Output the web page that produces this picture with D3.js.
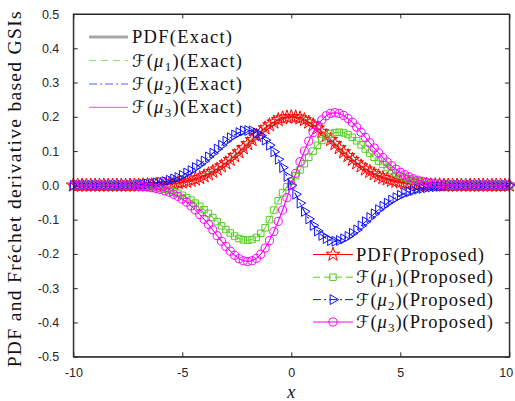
<!DOCTYPE html>
<html><head><meta charset="utf-8">
<script src="https://cdn.jsdelivr.net/npm/d3@7"></script>
<style>
html,body{margin:0;padding:0;background:#fff;}
svg{display:block;}
</style></head>
<body>
<svg id="c" width="515" height="401"></svg>
<script>
// ---------- data ----------
const xs = [-10,-9.8,-9.6,-9.4,-9.2,-9,-8.8,-8.6,-8.4,-8.2,-8,-7.8,-7.6,-7.4,-7.2,
 -7,-6.8,-6.6,-6.4,-6.2,-6,-5.8,-5.6,-5.4,-5.2,-5,-4.8,-4.6,-4.4,-4.2,-4,-3.8,-3.6,-3.4,-3.2,-3,-2.8,-2.6,-2.4,-2.2,-2,-1.8,-1.6,-1.4,-1.2,-1,-0.8,-0.6,-0.4,-0.2,
 0,0.2,0.4,0.6,0.8,1,1.2,1.4,1.6,1.8,2,2.2,2.4,2.6,2.8,3,3.2,3.4,3.6,3.8,4,4.2,4.4,4.6,4.8,5,5.2,5.4,5.6,5.8,6,6.2,6.4,6.6,6.8,7,
 7.2,7.4,7.6,7.8,8,8.2,8.4,8.6,8.8,9,9.2,9.4,9.6,9.8,10];

const pdfVals = [0,0,0,0,0,0,0,0,0,0,0,0,0,0,0,
 0,0.001,0.001,0.001,0.002,0.002,0.003,0.004,0.005,0.007,0.009,0.011,0.014,0.018,0.022,0.027,0.033,0.040,0.047,0.056,0.065,0.075,0.086,0.097,0.109,0.121,0.133,0.145,0.156,0.167,0.176,0.184,0.191,0.196,0.199,
 0.200,0.199,0.196,0.191,0.184,0.176,0.167,0.156,0.145,0.133,0.121,0.109,0.097,0.086,0.075,0.065,0.056,0.047,0.040,0.033,0.027,0.022,0.018,0.014,0.011,0.009,0.007,0.005,0.004,0.003,0.002,0.002,0.001,0.001,0.001,0,
 0,0,0,0,0,0,0,0,0,0,0,0,0,0,0];

const mu1Vals = [0,0,0,0,0,0,0,0,0,0,0,0,0,0,0,
 -0.002,-0.003,-0.004,-0.005,-0.007,-0.009,-0.011,-0.015,-0.019,-0.023,-0.029,-0.036,-0.043,-0.052,-0.061,-0.071,-0.082,-0.094,-0.106,-0.118,-0.129,-0.139,-0.148,-0.155,-0.159,-0.160,-0.158,-0.152,-0.140,-0.124,-0.100,-0.072,-0.045,-0.022,-0.004,
 0.012,0.028,0.045,0.063,0.082,0.100,0.117,0.131,0.142,0.150,0.154,0.155,0.153,0.148,0.140,0.130,0.118,0.106,0.094,0.082,0.071,0.061,0.052,0.043,0.036,0.029,0.023,0.019,0.015,0.011,0.009,0.007,0.005,0.004,0.003,0.002,
 0,0,0,0,0,0,0,0,0,0,0,0,0,0,0];

const mu2Vals = [0,0,0,0,0,0,0,0,0,0,0,0,0,0,0,
 0.002,0.003,0.004,0.005,0.007,0.009,0.011,0.015,0.019,0.023,0.029,0.036,0.043,0.052,0.061,0.071,0.083,0.094,0.106,0.117,0.129,0.139,0.147,0.154,0.159,0.160,0.159,0.153,0.145,0.132,0.117,0.098,0.076,0.052,0.026,
 0.000,-0.026,-0.052,-0.076,-0.098,-0.117,-0.133,-0.146,-0.155,-0.161,-0.163,-0.161,-0.156,-0.149,-0.140,-0.130,-0.118,-0.106,-0.094,-0.083,-0.071,-0.061,-0.052,-0.043,-0.036,-0.029,-0.023,-0.019,-0.015,-0.011,-0.009,-0.007,-0.005,-0.004,-0.003,-0.002,
 0,0,0,0,0,0,0,0,0,0,0,0,0,0,0];

const mu3Vals = [0,0,0,0,0,0,0,0,0,0,0,0,0,0,0,
 -0.003,-0.004,-0.005,-0.007,-0.009,-0.012,-0.016,-0.020,-0.026,-0.032,-0.040,-0.049,-0.060,-0.072,-0.085,-0.099,-0.114,-0.130,-0.147,-0.163,-0.178,-0.192,-0.204,-0.214,-0.220,-0.222,-0.220,-0.213,-0.201,-0.183,-0.161,-0.135,-0.105,-0.072,-0.036,
 0.000,0.035,0.069,0.100,0.129,0.154,0.175,0.191,0.203,0.210,0.212,0.210,0.204,0.195,0.184,0.170,0.155,0.140,0.124,0.109,0.095,0.081,0.068,0.057,0.047,0.038,0.031,0.025,0.019,0.015,0.012,0.009,0.007,0.005,0.004,0.003,
 0,0,0,0,0,0,0,0,0,0,0,0,0,0,0];

const xTicks = [-10,-5,0,5,10];
const xTickLabels = ["-10","-5","0","5","10"];
const yTicks = [0.5,0.4,0.3,0.2,0.1,0,-0.1,-0.2,-0.3,-0.4,-0.5];
const yTickLabels = ["0.5","0.4","0.3","0.2","0.1","0.0","-0.1","-0.2","-0.3","-0.4","-0.5"];

const exactNames = ["PDF(Exact)","μ1","μ2","μ3"];
const propNames = ["PDF(Proposed)","μ1","μ2","μ3"];
const yLabel = "PDF and Fréchet derivative based GSIs";
const xLabel = "x";

// ---------- layout ----------
const svg = d3.select("#c");
const L = 73.3, R = 509.3, T = 14, B = 356.7;
const x = d3.scaleLinear().domain([-10,10]).range([L,R]);
const y = d3.scaleLinear().domain([-0.5,0.5]).range([B,T]);
const axisColor = "#262626";
const serif = "'Liberation Serif','DejaVu Serif',serif";

const series = [
  {vals: pdfVals, exColor:"#a8a8a8", exW:3, exDash:null, color:"#ff0000", dash:null, sym:"star", mw:1},
  {vals: mu1Vals, exColor:"#99e066", exW:1, exDash:"7,5", color:"#55cc22", dash:"7,4", sym:"square", mw:1},
  {vals: mu2Vals, exColor:"#5060ff", exW:1, exDash:"8,3,2,3", color:"#1010ff", dash:"8,3,2,3", sym:"triangle", mw:1},
  {vals: mu3Vals, exColor:"#ff44ff", exW:1, exDash:null, color:"#ff00ff", dash:null, sym:"circle", mw:1}
];

const plot = svg.append("g");
const line = d3.line().x((d,i)=>x(xs[i])).y(d=>y(d));

// exact lines
series.forEach(s=>{
  plot.append("path").attr("d", line(s.vals)).attr("fill","none")
    .attr("stroke", s.exColor).attr("stroke-width", s.exW)
    .attr("stroke-dasharray", s.exDash);
});

function markerPath(sym){
  if(sym==="star") return d3.symbol(d3.symbolStar, 60)();
  if(sym==="square") return d3.symbol(d3.symbolSquare, 42)();
  if(sym==="triangle") return d3.symbol(d3.symbolTriangle, 42)();
  return d3.symbol(d3.symbolCircle, 52)();
}
function drawMarker(g, s, cx, cy){
  const p = g.append("path").attr("d", markerPath(s.sym))
    .attr("fill","none").attr("stroke", s.color).attr("stroke-width",s.mw);
  if(s.sym==="triangle") p.attr("transform",`translate(${cx},${cy}) rotate(90)`);
  else p.attr("transform",`translate(${cx},${cy})`);
}

// proposed lines + markers
series.forEach(s=>{
  plot.append("path").attr("d", line(s.vals)).attr("fill","none")
    .attr("stroke", s.color).attr("stroke-width", 1)
    .attr("stroke-dasharray", s.dash);
  const mg = plot.append("g");
  s.vals.forEach((v,i)=> drawMarker(mg, s, x(xs[i]), y(v)));
});

// ---------- axes ----------
const tk = 4.4;
svg.append("rect").attr("x",L).attr("y",T).attr("width",R-L).attr("height",B-T)
  .attr("fill","none").attr("stroke",axisColor).attr("stroke-width",1);

const gB = svg.append("g").attr("transform",`translate(0,${B})`)
  .call(d3.axisBottom(x).tickValues(xTicks).tickSizeInner(-tk).tickSizeOuter(0).tickPadding(11)
  .tickFormat((d,i)=>xTickLabels[i]));
const gT = svg.append("g").attr("transform",`translate(0,${T})`)
  .call(d3.axisTop(x).tickValues(xTicks).tickSizeInner(-tk).tickSizeOuter(0).tickFormat(""));
const gL = svg.append("g").attr("transform",`translate(${L},0)`)
  .call(d3.axisLeft(y).tickValues(yTicks).tickSizeInner(-tk).tickSizeOuter(0).tickPadding(14)
  .tickFormat((d,i)=>yTickLabels[i]));
const gR = svg.append("g").attr("transform",`translate(${R},0)`)
  .call(d3.axisRight(y).tickValues(yTicks).tickSizeInner(-tk).tickSizeOuter(0).tickFormat(""));
[gB,gT,gL,gR].forEach(g=>{
  g.select(".domain").attr("stroke",axisColor);
  g.selectAll(".tick line").attr("stroke",axisColor);
  g.selectAll("text").attr("fill",axisColor).attr("font-size",12.5)
    .attr("font-family","'Liberation Sans',Arial,sans-serif");
});
gB.selectAll(".tick text").filter(d=>d===10).attr("dx",-3.5);

// ---------- labels ----------
svg.append("text").attr("transform",`translate(21,${(T+B)/2+4}) rotate(-90)`)
  .attr("text-anchor","middle").attr("font-family",serif).attr("font-size",19.5)
  .attr("fill","#111").attr("textLength",356).attr("lengthAdjust","spacing").text(yLabel);

svg.append("text").attr("x",(L+R)/2).attr("y",397.5).attr("text-anchor","middle")
  .attr("font-family",serif).attr("font-style","italic").attr("font-size",18)
  .attr("fill","#111").text(xLabel);

// ---------- legends ----------
function legendLabel(g, name, tx, ty, suffix, targetW){
  const t = g.append("text").attr("x",tx).attr("y",ty).attr("font-family",serif)
    .attr("font-size",18.5).attr("fill","#111");
  if(name.startsWith("PDF")){
    t.text(name);
  } else {
    t.append("tspan").attr("font-family","'DejaVu Serif','DejaVu Sans',serif").attr("font-size",17).text("ℱ");
    t.append("tspan").text("(");
    t.append("tspan").attr("font-style","italic").text("μ");
    t.append("tspan").attr("font-size",13).attr("dy",4).text(name.slice(1));
    t.append("tspan").attr("dy",-4).text(")"+suffix);
  }
  t.attr("textLength",targetW).attr("lengthAdjust","spacing");
}

const lgE = svg.append("g");
const eRows = [37, 60.5, 84, 107.3];
series.forEach((s,i)=>{
  lgE.append("line").attr("x1",89).attr("x2",128).attr("y1",eRows[i]).attr("y2",eRows[i])
    .attr("stroke",s.exColor).attr("stroke-width",s.exW).attr("stroke-dasharray",s.exDash);
  legendLabel(lgE, exactNames[i], 132, eRows[i]+6, "(Exact)", i===0?100:110);
});

const lgP = svg.append("g");
const pRows = [254.5, 277.2, 299.6, 322];
series.forEach((s,i)=>{
  lgP.append("line").attr("x1",313).attr("x2",353).attr("y1",pRows[i]).attr("y2",pRows[i])
    .attr("stroke",s.color).attr("stroke-width",1).attr("stroke-dasharray",s.dash);
  drawMarker(lgP, s, 333, pRows[i]);
  legendLabel(lgP, propNames[i], 356, pRows[i]+6, "(Proposed)", i===0?128:137);
});
</script>
</body></html>
